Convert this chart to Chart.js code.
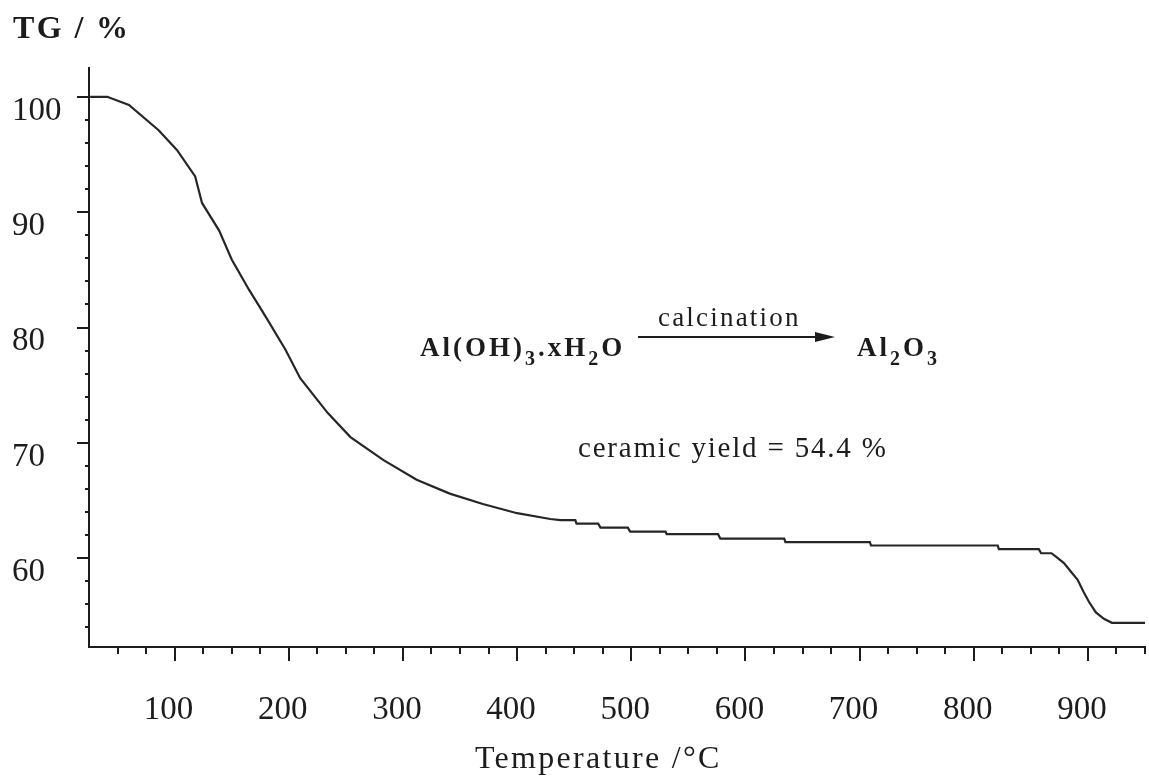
<!DOCTYPE html>
<html>
<head>
<meta charset="utf-8">
<title>TG curve</title>
<script src="https://cdn.jsdelivr.net/npm/chart.js@4.4.1/dist/chart.umd.min.js"></script>
<style>
    html, body { margin: 0; padding: 0; background: #fff; }
    #tgChart { display: block; }
</style>
</head>
<body>
<canvas id="tgChart" width="1149" height="777"></canvas>
<script>
// final residue after calcination, also used for the label
const ceramicYield = 54.4;

const temperature = [
    26, 41, 60, 86, 102, 118, 124, 139, 150, 165, 180, 197, 210, 234, 254, 283, 312, 341, 370, 400, 429,
    438, 451, 452, 471, 473, 497, 499, 530, 531, 576, 578, 634, 635, 709, 710, 821, 822, 857, 859, 868,
    872, 879, 885, 891, 896, 901, 907, 914, 921, 950
];
const massPercent = [
    100, 100, 99.3, 97.1, 95.4, 93.1, 90.8, 88.4, 85.9, 83.3, 80.9, 78.1, 75.6, 72.6, 70.5, 68.5, 66.8, 65.6, 64.7, 63.9, 63.4,
    63.3, 63.3, 63.0, 63.0, 62.65, 62.65, 62.3, 62.3, 62.08, 62.08, 61.7, 61.7, 61.4, 61.4, 61.1, 61.1, 60.78, 60.78, 60.43, 60.43,
    60.14, 59.57, 58.84, 58.12, 57.11, 56.2, 55.3, 54.75, ceramicYield, ceramicYield
];

const xTickLabels = [100, 200, 300, 400, 500, 600, 700, 800, 900];
const yTickLabels = [60, 70, 80, 90, 100];

const X_MINOR_STEP = 25;
const Y_MINOR_STEP = 2;

const inkColor = '#1c1c1c';
const serif = "'Liberation Serif', 'Times New Roman', serif";

const points = temperature.map((t, i) => ({ x: t, y: massPercent[i] }));

// draws text in runs, sub runs are smaller and dropped below the baseline
function drawFormula(ctx, parts, x, y, size, subSize, spacing) {
    ctx.letterSpacing = spacing + 'px';
    parts.forEach(p => {
        ctx.font = 'bold ' + (p.sub ? subSize : size) + 'px ' + serif;
        ctx.fillText(p.t, x, p.sub ? y + 9 : y);
        x += ctx.measureText(p.t).width;
    });
}

function drawSpaced(ctx, text, x, y, font, spacing) {
    ctx.font = font;
    ctx.letterSpacing = spacing + 'px';
    ctx.fillText(text, x, y);
}

const axisDecor = {
    id: 'axisDecor',
    afterDraw(chart) {
        const ctx = chart.ctx;
        const xs = chart.scales.x;
        const ys = chart.scales.y;
        const area = chart.chartArea;

        ctx.save();
        ctx.strokeStyle = inkColor;
        ctx.lineWidth = 2;
        ctx.beginPath();
        for (let t = 50; t <= xs.max; t += X_MINOR_STEP) {
            const px = Math.round(xs.getPixelForValue(t));
            const len = xTickLabels.includes(t) ? 14 : 7;
            ctx.moveTo(px, area.bottom);
            ctx.lineTo(px, area.bottom + len);
        }
        for (let v = 54; v <= 100; v += Y_MINOR_STEP) {
            const py = Math.round(ys.getPixelForValue(v));
            const len = yTickLabels.includes(v) ? 12 : 4;
            ctx.moveTo(area.left, py);
            ctx.lineTo(area.left - len, py);
        }
        ctx.stroke();

        ctx.fillStyle = inkColor;
        ctx.textBaseline = 'alphabetic';
        ctx.textAlign = 'left';

        drawSpaced(ctx, 'TG / %', 13, 38, 'bold 32px ' + serif, 2.4);
        drawSpaced(ctx, 'Temperature /°C', 475, 768, '32px ' + serif, 2.3);

        drawFormula(ctx, [
            { t: 'Al(OH)' }, { t: '3', sub: true }, { t: '.xH' }, { t: '2', sub: true }, { t: 'O' }
        ], 420, 356, 27, 20, 3);
        drawFormula(ctx, [
            { t: 'Al' }, { t: '2', sub: true }, { t: 'O' }, { t: '3', sub: true }
        ], 857, 356, 27, 20, 3);

        drawSpaced(ctx, 'calcination', 658, 326, '27px ' + serif, 2.2);
        drawSpaced(ctx, 'ceramic yield = ' + ceramicYield + ' %', 578, 457, '29px ' + serif, 1.8);

        // reaction arrow
        ctx.lineWidth = 2;
        ctx.beginPath();
        ctx.moveTo(638, 337);
        ctx.lineTo(820, 337);
        ctx.stroke();
        ctx.beginPath();
        ctx.moveTo(835, 337);
        ctx.lineTo(815, 332);
        ctx.lineTo(815, 342);
        ctx.closePath();
        ctx.fill();

        ctx.restore();
    }
};

new Chart(document.getElementById('tgChart'), {
    type: 'line',
    data: {
        datasets: [{
            data: points,
            borderColor: '#262626',
            borderWidth: 2.2,
            pointRadius: 0,
            tension: 0,
            fill: false
        }]
    },
    options: {
        responsive: false,
        animation: false,
        layout: { padding: { top: 68, left: 12, right: 4, bottom: 0 } },
        plugins: {
            legend: { display: false },
            tooltip: { enabled: false }
        },
        scales: {
            x: {
                type: 'linear',
                min: 25,
                max: 950,
                afterBuildTicks: scale => {
                    scale.ticks = xTickLabels.map(v => ({ value: v }));
                },
                afterFit: scale => {
                    scale.height = 130;
                    scale.paddingLeft = 0;
                    scale.paddingRight = 0;
                },
                grid: { display: false, drawTicks: false },
                border: { display: true, color: inkColor, width: 2 },
                ticks: {
                    autoSkip: false,
                    maxRotation: 0,
                    padding: 44,
                    labelOffset: -6,
                    color: inkColor,
                    font: { family: serif, size: 33 }
                }
            },
            y: {
                min: 52.3,
                max: 102.5,
                afterBuildTicks: scale => {
                    scale.ticks = yTickLabels.map(v => ({ value: v }));
                },
                afterFit: scale => {
                    scale.width = 77;
                    scale.paddingTop = 0;
                    scale.paddingBottom = 0;
                },
                grid: { display: false, drawTicks: false },
                border: { display: true, color: inkColor, width: 2 },
                ticks: {
                    autoSkip: false,
                    crossAlign: 'far',
                    labelOffset: 14,
                    color: inkColor,
                    font: { family: serif, size: 33 }
                }
            }
        }
    },
    plugins: [axisDecor]
});
</script>
</body>
</html>
